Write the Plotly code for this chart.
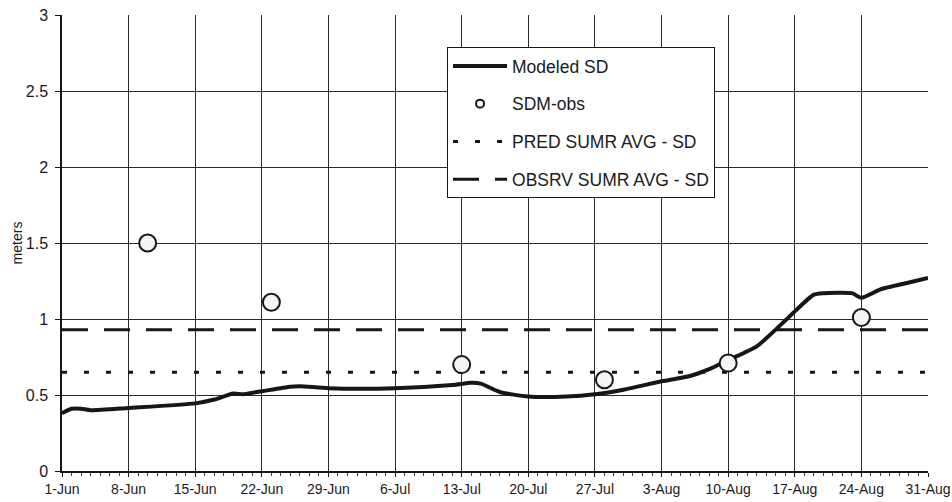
import plotly.graph_objects as go

# ---- data ----
model_dates = ["2001-06-01", "2001-06-02", "2001-06-03", "2001-06-04", "2001-06-08",
               "2001-06-15", "2001-06-17", "2001-06-19", "2001-06-20", "2001-06-22",
               "2001-06-25", "2001-06-26", "2001-06-29", "2001-07-06", "2001-07-12",
               "2001-07-14", "2001-07-15", "2001-07-17", "2001-07-20", "2001-07-24",
               "2001-07-27", "2001-07-30", "2001-08-03", "2001-08-06", "2001-08-08",
               "2001-08-10", "2001-08-13", "2001-08-16", "2001-08-17", "2001-08-19",
               "2001-08-20", "2001-08-23", "2001-08-24", "2001-08-26", "2001-08-29",
               "2001-08-31"]
model_sd = [0.38, 0.41, 0.41, 0.40, 0.415,
            0.445, 0.47, 0.51, 0.505, 0.525,
            0.555, 0.558, 0.545, 0.545, 0.566,
            0.58, 0.575, 0.52, 0.49, 0.49,
            0.505, 0.535, 0.59, 0.625, 0.67,
            0.73, 0.82, 0.99, 1.05, 1.16,
            1.17, 1.17, 1.14, 1.195, 1.24,
            1.27]

obs_dates = ["2001-06-10", "2001-06-23", "2001-07-13", "2001-07-28", "2001-08-10", "2001-08-24"]
obs_sd = [1.50, 1.11, 0.70, 0.60, 0.71, 1.01]

avg_dates = ["2001-06-01", "2001-08-31"]
pred_avg = [0.65, 0.65]
obsrv_avg = [0.93, 0.93]

names = ["Modeled SD", "SDM-obs", "PRED SUMR AVG - SD", "OBSRV SUMR AVG - SD"]

FONT = "Liberation Sans, Arial, sans-serif"
INK = "#161616"
TXT = "#1a1a1a"

fig = go.Figure()

fig.add_trace(go.Scatter(x=avg_dates, y=pred_avg, mode="lines", name=names[2],
                         line=dict(color=INK, width=3, dash="5px,17px"),
                         legendrank=3, legendgroup="c"))
fig.add_trace(go.Scatter(x=avg_dates, y=obsrv_avg, mode="lines", name=names[3],
                         line=dict(color=INK, width=3, dash="26px,16px"),
                         legendrank=4, legendgroup="d"))
fig.add_trace(go.Scatter(x=model_dates, y=model_sd, mode="lines", name=names[0],
                         line=dict(color=INK, width=4, shape="spline", smoothing=0.6),
                         legendrank=1, legendgroup="a"))
fig.add_trace(go.Scatter(x=obs_dates, y=obs_sd, mode="markers", name=names[1],
                         marker=dict(symbol="circle", size=17, color="#f4f4f4",
                                     line=dict(color=INK, width=2)),
                         showlegend=False, legendgroup="b"))
# legend-only entry with a smaller marker
fig.add_trace(go.Scatter(x=[None], y=[None], mode="markers", name=names[1],
                         marker=dict(symbol="circle", size=8, color="white",
                                     line=dict(color=INK, width=2)),
                         legendrank=2, legendgroup="b"))

fig.update_layout(
    width=952, height=502,
    margin=dict(l=62, r=24, t=15, b=31),
    paper_bgcolor="white", plot_bgcolor="white",
    font=dict(family=FONT, color=TXT),
    showlegend=True,
    legend=dict(x=0.4446, y=0.9298, xanchor="left", yanchor="top",
                bgcolor="white", bordercolor=INK, borderwidth=1,
                font=dict(size=17.5, family=FONT, color=TXT),
                tracegroupgap=12, itemwidth=54),
    xaxis=dict(
        type="date", automargin=False,
        range=["2001-06-01", "2001-08-31"],
        tick0="2001-06-01", dtick=7 * 86400000,
        tickformat="%-d-%b",
        showgrid=True, gridcolor="#2a2a2a", gridwidth=1,
        showline=True, linecolor=INK, linewidth=1.5,
        ticks="outside", ticklen=4, tickcolor=INK,
        minor=dict(dtick=86400000, tick0="2001-06-01", ticks="outside",
                   ticklen=3, tickcolor="#444", showgrid=False),
        tickfont=dict(size=14, family=FONT, color=TXT),
        zeroline=False,
    ),
    yaxis=dict(
        range=[0, 3], dtick=0.5, automargin=False,
        showgrid=True, gridcolor="#2a2a2a", gridwidth=1,
        showline=True, linecolor=INK, linewidth=1.5,
        ticks="outside", ticklen=5, tickcolor=INK,
        tickfont=dict(size=16, family=FONT, color=TXT),
        ticklabelstandoff=4,
        title=dict(text="meters", font=dict(size=14, family=FONT, color=TXT), standoff=0),
        zeroline=False,
    ),
)

fig.write_html("out.html")
